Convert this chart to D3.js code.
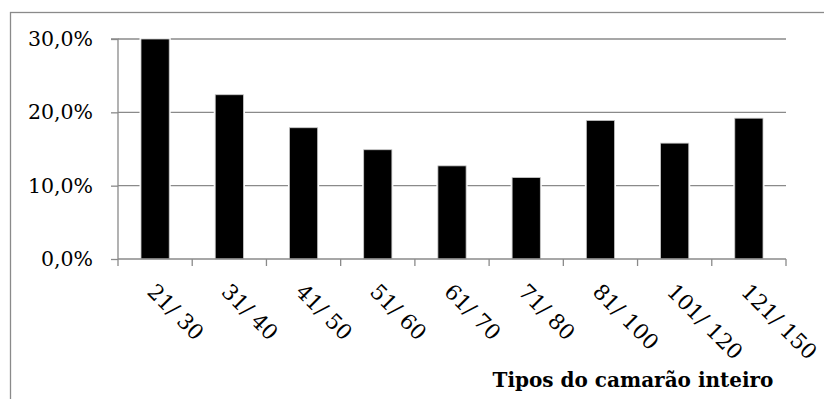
<!DOCTYPE html>
<html><head><meta charset="utf-8">
<script src="https://cdn.jsdelivr.net/npm/d3@7"></script>
<style>html,body{margin:0;padding:0;background:#fff;}svg{display:block;}</style>
</head><body>
<svg id="c" width="824" height="399"></svg>
<script>
const categories = ["21/ 30","31/ 40","41/ 50","51/ 60","61/ 70","71/ 80","81/ 100","101/ 120","121/ 150"];
const values = [0.300, 0.224, 0.179, 0.149, 0.127, 0.111, 0.189, 0.158, 0.192];
const yTicks = [0, 0.1, 0.2, 0.3];
const xTitle = "Tipos do camarão inteiro";

const svg = d3.select("#c");
const m = {left:118, right:786, top:39, bottom:259};
const grey = "#8a8a8a";
const font = "'DejaVu Serif', serif";

// outer border
svg.append("rect").attr("x",10.5).attr("y",12.5).attr("width",830).attr("height",400)
  .attr("fill","none").attr("stroke",grey).attr("stroke-width",1.3);

const x = d3.scaleBand().domain(categories).range([m.left,m.right]).paddingInner(0.62).paddingOuter(0.31);
const y = d3.scaleLinear().domain([0,0.3]).range([m.bottom,m.top]);

// gridlines
svg.append("g").selectAll("line").data(yTicks.filter(d=>d>0)).join("line")
  .attr("x1",m.left).attr("x2",m.right).attr("y1",d=>y(d)).attr("y2",d=>y(d))
  .attr("stroke",grey).attr("stroke-width",1.3);

// bars with white halo
const bars = svg.append("g");
bars.selectAll("rect.h").data(values).join("rect").attr("class","h")
  .attr("x",(d,i)=>x(categories[i])).attr("width",x.bandwidth())
  .attr("y",d=>y(d)).attr("height",d=>y(0)-y(d))
  .attr("fill","#000").attr("stroke","#fff").attr("stroke-width",3);
bars.selectAll("rect.b").data(values).join("rect").attr("class","b")
  .attr("x",(d,i)=>x(categories[i])).attr("width",x.bandwidth())
  .attr("y",d=>y(d)).attr("height",d=>y(0)-y(d))
  .attr("fill","#000").attr("stroke","#c8c8c8").attr("stroke-width",0.8);

// y axis
const yAxis = d3.axisLeft(y).tickValues(yTicks).tickSize(7).tickPadding(18)
  .tickFormat(d=>d3.format(".1f")(d*100).replace(".",",")+"%");
const gy = svg.append("g").attr("transform",`translate(${m.left},0)`).call(yAxis);
gy.select(".domain").attr("stroke",grey).attr("stroke-width",1.3).attr("d",`M-7,${m.top}H0V${m.bottom}`);
gy.selectAll(".tick line").attr("stroke",grey).attr("stroke-width",1.3);
gy.selectAll(".tick text").attr("font-family",font).attr("font-size",20.5).attr("fill","#000");

// x axis
svg.append("line").attr("x1",m.left).attr("x2",m.right).attr("y1",y(0)).attr("y2",y(0))
  .attr("stroke",grey).attr("stroke-width",1.3);
const bounds = categories.map(c=>x(c)-x.step()*x.paddingInner()/2).concat([m.right]);
svg.append("g").selectAll("line").data(bounds).join("line")
  .attr("x1",d=>d).attr("x2",d=>d).attr("y1",y(0)).attr("y2",y(0)+7)
  .attr("stroke",grey).attr("stroke-width",1.3);

svg.append("g").selectAll("text").data(categories).join("text")
  .attr("transform",c=>`translate(${x(c)+x.bandwidth()/2-9},${y(0)+34}) rotate(45)`)
  .attr("font-family",font).attr("font-size",21.5).attr("fill","#000")
  .text(c=>c);

svg.append("text").attr("x",633).attr("y",387).attr("text-anchor","middle")
  .attr("font-family",font).attr("font-weight","bold").attr("font-size",20).attr("fill","#000")
  .text(xTitle);
</script>
</body></html>
